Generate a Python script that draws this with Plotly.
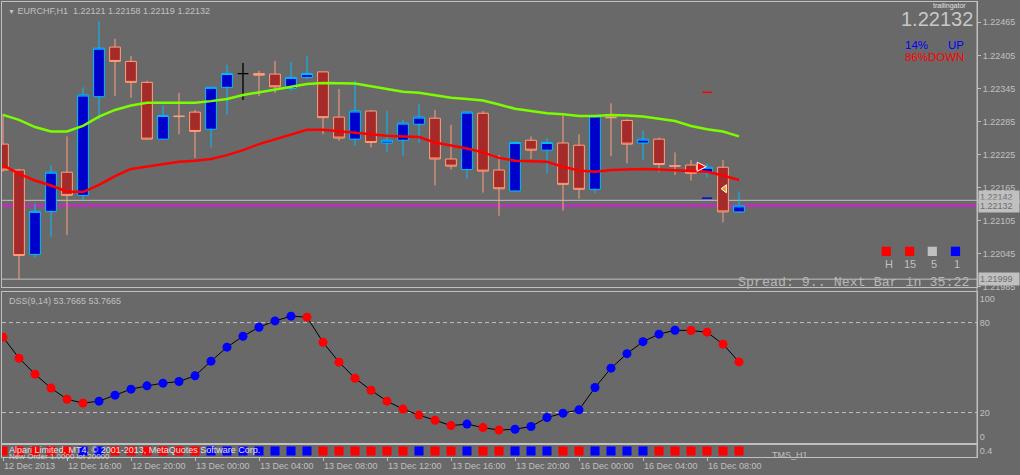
import plotly.graph_objects as go

# ---------------- data ----------------
bars = list(range(47))
open_ = [1.22244, 1.22197, 1.22044, 1.22122, 1.22193, 1.22151, 1.22330, 1.22420, 1.22394, 1.22356,
         1.22253, 1.22295, 1.22302, 1.22271, 1.22347, 1.22372, 1.22372, 1.22371, 1.22345, 1.22365,
         1.22375, 1.22293, 1.22253, 1.22304, 1.22246, 1.22251, 1.22280, 1.22291, 1.22217, 1.22198,
         1.22300, 1.22197, 1.22159, 1.22251, 1.22233, 1.22246, 1.22242, 1.22162, 1.22293, 1.22287,
         1.22246, 1.22253, 1.22205, 1.22206, 1.22192, 1.22202, 1.22121]
high = [1.22299, 1.22199, 1.22136, 1.22206, 1.22258, 1.22347, 1.22467, 1.22435, 1.22404, 1.22359,
        1.22315, 1.22337, 1.22306, 1.22348, 1.22388, 1.22391, 1.22377, 1.22395, 1.22393, 1.22404,
        1.22375, 1.22344, 1.22359, 1.22306, 1.22304, 1.22288, 1.22317, 1.22306, 1.22279, 1.22303,
        1.22304, 1.22224, 1.22249, 1.22258, 1.22255, 1.22296, 1.22262, 1.22297, 1.22318, 1.22289,
        1.22269, 1.22256, 1.22229, 1.22215, 1.22209, 1.22215, 1.22158]
low = [1.22194, 1.21999, 1.22038, 1.22076, 1.22079, 1.22142, 1.22287, 1.22331, 1.22328, 1.22252,
       1.22252, 1.22262, 1.22219, 1.22238, 1.22297, 1.22324, 1.22331, 1.22337, 1.22341, 1.22362,
       1.22262, 1.22250, 1.22241, 1.22238, 1.22230, 1.22223, 1.22247, 1.22169, 1.22198, 1.22181,
       1.22156, 1.22114, 1.22158, 1.22217, 1.22191, 1.22123, 1.22145, 1.22155, 1.22222, 1.22209,
       1.22215, 1.22194, 1.22188, 1.22178, 1.22184, 1.22102, 1.22119]
close = [1.22197, 1.22042, 1.22122, 1.22193, 1.22151, 1.22333, 1.22418, 1.22394, 1.22356, 1.22253,
         1.22296, 1.22294, 1.22267, 1.22347, 1.22372, 1.22372, 1.22369, 1.22348, 1.22365, 1.22372,
         1.22292, 1.22255, 1.22304, 1.22247, 1.22251, 1.22282, 1.22293, 1.22217, 1.22204, 1.22302,
         1.22195, 1.22163, 1.22247, 1.22233, 1.22247, 1.22171, 1.22162, 1.22295, 1.22292, 1.22244,
         1.22253, 1.22207, 1.22204, 1.22191, 1.22202, 1.22121, 1.22132]
ma_green = [1.22297, 1.22288, 1.22275, 1.22267, 1.22267, 1.22277, 1.22294, 1.22306, 1.22314, 1.22319,
            1.22319, 1.22319, 1.22319, 1.22322, 1.22326, 1.22333, 1.22338, 1.22343, 1.22347, 1.22353,
            1.22355, 1.22355, 1.22354, 1.22349, 1.22344, 1.22339, 1.22337, 1.22333, 1.22328, 1.22326,
            1.22323, 1.22316, 1.22308, 1.22304, 1.22300, 1.22298, 1.22295, 1.22295, 1.22297, 1.22296,
            1.22294, 1.22290, 1.22286, 1.22277, 1.22271, 1.22267, 1.22258]
ma_red = [1.22206, 1.22190, 1.22178, 1.22169, 1.22158, 1.22157, 1.22170, 1.22186, 1.22199, 1.22203,
          1.22207, 1.22212, 1.22214, 1.22217, 1.22224, 1.22233, 1.22244, 1.22253, 1.22261, 1.22270,
          1.22270, 1.22267, 1.22265, 1.22262, 1.22259, 1.22258, 1.22257, 1.22247, 1.22242, 1.22236,
          1.22229, 1.22219, 1.22214, 1.22213, 1.22212, 1.22203, 1.22196, 1.22194, 1.22197, 1.22198,
          1.22199, 1.22198, 1.22197, 1.22196, 1.22194, 1.22187, 1.22179]
dss = [70.3, 56.3, 45.6, 36.3, 28.9, 26.3, 27.6, 31.6, 35.6, 37.8,
       39.6, 40.7, 44.5, 54.3, 63.6, 70.9, 76.9, 81.1, 84.3, 83.6,
       66.9, 53.6, 42.9, 34.9, 27.6, 22.3, 18.3, 14.9, 11.3, 12.3,
       10.0, 8.3, 8.9, 10.7, 16.7, 19.6, 21.8, 36.7, 49.6, 59.3,
       67.3, 72.3, 74.9, 74.7, 73.6, 65.6, 53.7665]
tms_state = [-1, -1, -1, -1, -1, 1, 1, -1, -1, -1,
             -1, -1, -1, 1, 1, 1, 1, 1, 1, 1,
             -1, -1, -1, -1, -1, -1, 1, -1, -1, 1,
             -1, -1, 1, 1, 1, -1, -1, 1, 1, 1,
             1, -1, -1, -1, -1, -1, -1]
tick_bars = [0, 4, 8, 12, 16, 20, 24, 28, 32, 36, 40, 44]
tick_text = ["12 Dec 2013", "12 Dec 16:00", "12 Dec 20:00", "13 Dec 00:00", "13 Dec 04:00",
             "13 Dec 08:00", "13 Dec 12:00", "13 Dec 16:00", "13 Dec 20:00", "16 Dec 00:00",
             "16 Dec 04:00", "16 Dec 08:00"]
price_ticks = [1.22465, 1.22405, 1.22345, 1.22285, 1.22225, 1.22165, 1.22105, 1.22045, 1.21985]
dss_ticks = [96.0, 80, 20, 4.0]
dss_tick_text = ["100", "80", "20", "0"]
dss_levels = [80, 20]
bid = 1.22132
ask = 1.22142
day_low = 1.21999
sig_red_dash = (44, 1.22338)
sig_blue_dash = (44, 1.22146)
sig_arrow = (43.95, 1.22203)
sig_triangle = (45.1, 1.22163)
up_pct, down_pct = 14, 86
tf_labels = ["H", "15", "5", "1"]
tf_colors = ["#FF0000", "#FF0000", "#C0C0C0", "#0000FF"]

# ---------------- layout helpers ----------------
W, H = 1020, 475
ML, MR, MT, MB = 2, 43, 2, 18
PW, PH = W - ML - MR, H - MT - MB
def fx(px): return (px - ML) / PW
def fy(py): return (H - MB - py) / PH

BG = "#696969"
FG = "#C0C0C0"
FONT = "Liberation Sans"
XR = [-1 / 16, 60.875]

fig = go.Figure()

normal = [i for i in bars if open_[i] != close[i]]
doji = [i for i in bars if open_[i] == close[i]]
pick = lambda arr, idx: [arr[i] for i in idx]

fig.add_trace(go.Candlestick(
    x=pick(bars, normal), open=pick(open_, normal), high=pick(high, normal),
    low=pick(low, normal), close=pick(close, normal),
    increasing=dict(line=dict(color="#00BFFF", width=1), fillcolor="#0000CD"),
    decreasing=dict(line=dict(color="#FFA07A", width=1), fillcolor="#A52A2A"),
    whiskerwidth=0, xaxis="x", yaxis="y", showlegend=False, hoverinfo="skip"))
fig.add_trace(go.Candlestick(
    x=pick(bars, doji), open=pick(open_, doji), high=pick(high, doji),
    low=pick(low, doji), close=pick(close, doji),
    increasing=dict(line=dict(color="#000000", width=1.3), fillcolor="#000000"),
    decreasing=dict(line=dict(color="#000000", width=1.3), fillcolor="#000000"),
    whiskerwidth=0, xaxis="x", yaxis="y", showlegend=False, hoverinfo="skip"))

fig.add_trace(go.Scatter(x=bars, y=ma_green, mode="lines", line=dict(color="#7CFC00", width=2.5),
                         xaxis="x", yaxis="y", showlegend=False, hoverinfo="skip"))
fig.add_trace(go.Scatter(x=bars, y=ma_red, mode="lines", line=dict(color="#FF0000", width=2.5),
                         xaxis="x", yaxis="y", showlegend=False, hoverinfo="skip"))

# signal marks
fig.add_trace(go.Scatter(x=[sig_red_dash[0]], y=[sig_red_dash[1]], mode="markers",
                         marker=dict(symbol="line-ew", size=7, line=dict(color="#FF0000", width=1.5)),
                         xaxis="x", yaxis="y", showlegend=False, hoverinfo="skip"))
fig.add_trace(go.Scatter(x=[sig_blue_dash[0]], y=[sig_blue_dash[1]], mode="markers",
                         marker=dict(symbol="line-ew", size=7, line=dict(color="#0000FF", width=1.5)),
                         xaxis="x", yaxis="y", showlegend=False, hoverinfo="skip"))
fig.add_trace(go.Scatter(x=[sig_arrow[0]], y=[sig_arrow[1]], mode="markers",
                         marker=dict(symbol="arrow-right", size=9, color="#FF0000",
                                     line=dict(color="#FFFFFF", width=1)),
                         xaxis="x", yaxis="y", showlegend=False, hoverinfo="skip"))
fig.add_trace(go.Scatter(x=[sig_triangle[0]], y=[sig_triangle[1]], mode="markers",
                         marker=dict(symbol="triangle-left", size=7, color="#DAA520",
                                     line=dict(color="#FFFFFF", width=1)),
                         xaxis="x", yaxis="y", showlegend=False, hoverinfo="skip"))

# DSS
dss_colors = ["#FF0000"] + ["#0000FF" if dss[i] > dss[i - 1] else "#FF0000" for i in range(1, len(dss))]
fig.add_trace(go.Scatter(x=bars, y=dss, mode="lines+markers",
                         line=dict(color="#000000", width=1),
                         marker=dict(size=9, color=dss_colors, line=dict(width=0)),
                         xaxis="x2", yaxis="y2", showlegend=False, hoverinfo="skip"))

# TMS
tms_colors = ["#0000FF" if s > 0 else "#FF0000" for s in tms_state]
fig.add_trace(go.Scatter(x=bars, y=[0.5] * len(bars), mode="markers",
                         marker=dict(symbol="square", size=9, color=tms_colors, line=dict(width=0)),
                         xaxis="x3", yaxis="y3", showlegend=False, hoverinfo="skip"))

shapes = []
for lvl, col, wd in [(ask, FG, 1), (day_low, FG, 1), (bid, "#FF00FF", 1.5)]:
    shapes.append(dict(type="line", xref="paper", x0=0, x1=1, yref="y", y0=lvl, y1=lvl,
                       line=dict(color=col, width=wd), layer="below"))
for lvl in dss_levels:
    shapes.append(dict(type="line", xref="paper", x0=0, x1=1, yref="y2", y0=lvl, y1=lvl,
                       line=dict(color=FG, width=1, dash="4px,3px"), layer="below"))
# right border continuous
shapes.append(dict(type="line", xref="paper", x0=1, x1=1, yref="paper", y0=0, y1=1,
                   line=dict(color=FG, width=1)))
# timeframe squares
sq_x = [886.3, 909.6, 932.3, 955.5]
for cx, col in zip(sq_x, tf_colors):
    shapes.append(dict(type="rect", xref="paper", yref="paper",
                       x0=fx(cx - 4.6), x1=fx(cx + 4.6), y0=fy(256), y1=fy(246.7),
                       fillcolor=col, line=dict(width=0)))

ann = []
def A(text, px, py, size=9, color=FG, xanchor="left", family=FONT, **kw):
    ann.append(dict(text=text, x=fx(px), y=fy(py), xref="paper", yref="paper", showarrow=False,
                    xanchor=xanchor, yanchor="middle", font=dict(size=size, color=color, family=family), **kw))

nb = "\u00a0"
A(f"<span style='font-size:7px'>▼</span>{nb}EURCHF,H1{nb}{nb}{open_[-1]:.5f} {high[-1]:.5f} {low[-1]:.5f} {close[-1]:.5f}",
  6, 11, size=9)
A(f"{close[-1]:.5f}", 975, 19, size=20, color="#C8C8C8", xanchor="right")
A("trailingator", 968, 6, size=7, color="#E0E0E0", xanchor="right")
A(f"{up_pct}%", 903, 45, size=11.5, color="#0000FF")
A("UP", 966, 45, size=11.5, color="#0000FF", xanchor="right")
A(f"{down_pct}%", 903, 57, size=11.5, color="#FF0000")
A("DOWN", 966, 57, size=11.5, color="#FF0000", xanchor="right")
for cx, lab in zip([888.5, 909.5, 934, 957], tf_labels):
    A(lab, cx, 264, size=11, xanchor="center")
A("Spread: 9.. Next Bar in 35:22", 736, 282, size=13.3, color="#B8B8B8", family="Liberation Mono")
A(f"DSS(9,14) {dss[-1]:.4f} {dss[-1]:.4f}", 7, 301, size=9)
A("New Order 1.0000 lot 20000", 7, 456, size=8, color="#D0D0D0")
A("Alpari Limited, MT4, © 2001-2013, MetaQuotes Software Corp.", 7, 449.5, size=9, color="#E0E0E0")
A("TMS_H1", 770, 454.5, size=9)

for lvl, shift in [(ask, 3), (day_low, 0), (bid, 0)]:
    ann.append(dict(text=f"{lvl:.5f}", x=fx(978), y=lvl, xref="paper", yref="y", showarrow=False,
                    xanchor="left", yanchor="middle", yshift=shift, bgcolor="#C0C0C0", borderpad=1,
                    width=38, align="left", font=dict(size=9, color="#6E6E6E", family=FONT)))

axis_common = dict(showline=True, mirror=True, linecolor=FG, linewidth=1, showgrid=False, zeroline=False)

fig.update_layout(
    width=W, height=H, margin=dict(l=ML, r=MR, t=MT, b=MB),
    paper_bgcolor=BG, plot_bgcolor=BG, showlegend=False,
    font=dict(family=FONT, size=9, color=FG),
    boxgap=0.33, boxgroupgap=0,
    xaxis=dict(domain=[0, 1], anchor="y", range=XR, showticklabels=False, ticks="",
               rangeslider=dict(visible=False), **axis_common),
    xaxis2=dict(domain=[0, 1], anchor="y2", range=XR, matches="x", showticklabels=False, ticks="",
                **axis_common),
    xaxis3=dict(domain=[0, 1], anchor="y3", range=XR, matches="x", tickmode="array",
                tickvals=tick_bars, ticktext=tick_text, ticks="outside", ticklen=3, tickcolor=FG,
                ticklabelposition="outside right", tickfont=dict(size=9, color=FG, family=FONT),
                **axis_common),
    yaxis=dict(domain=[fy(287), 1], anchor="x", side="right", range=[1.219848, 1.225018],
               tickmode="array", tickvals=price_ticks, ticktext=[f"{v:.5f}" for v in price_ticks],
               ticks="outside", ticklen=3, tickcolor=FG, tickfont=dict(size=9, color=FG, family=FONT),
               **axis_common),
    yaxis2=dict(domain=[fy(443), fy(292)], anchor="x2", side="right", range=[-0.3, 100.4],
                tickmode="array", tickvals=dss_ticks, ticktext=dss_tick_text, ticks="",
                tickfont=dict(size=9, color=FG, family=FONT), **axis_common),
    yaxis3=dict(domain=[0, fy(445)], anchor="x3", side="right", range=[0, 1],
                tickmode="array", tickvals=[0.5], ticktext=["0.4"], ticks="",
                tickfont=dict(size=9, color=FG, family=FONT), **axis_common),
    shapes=shapes, annotations=ann,
)

fig.write_html("out.html", config={"displayModeBar": False})
